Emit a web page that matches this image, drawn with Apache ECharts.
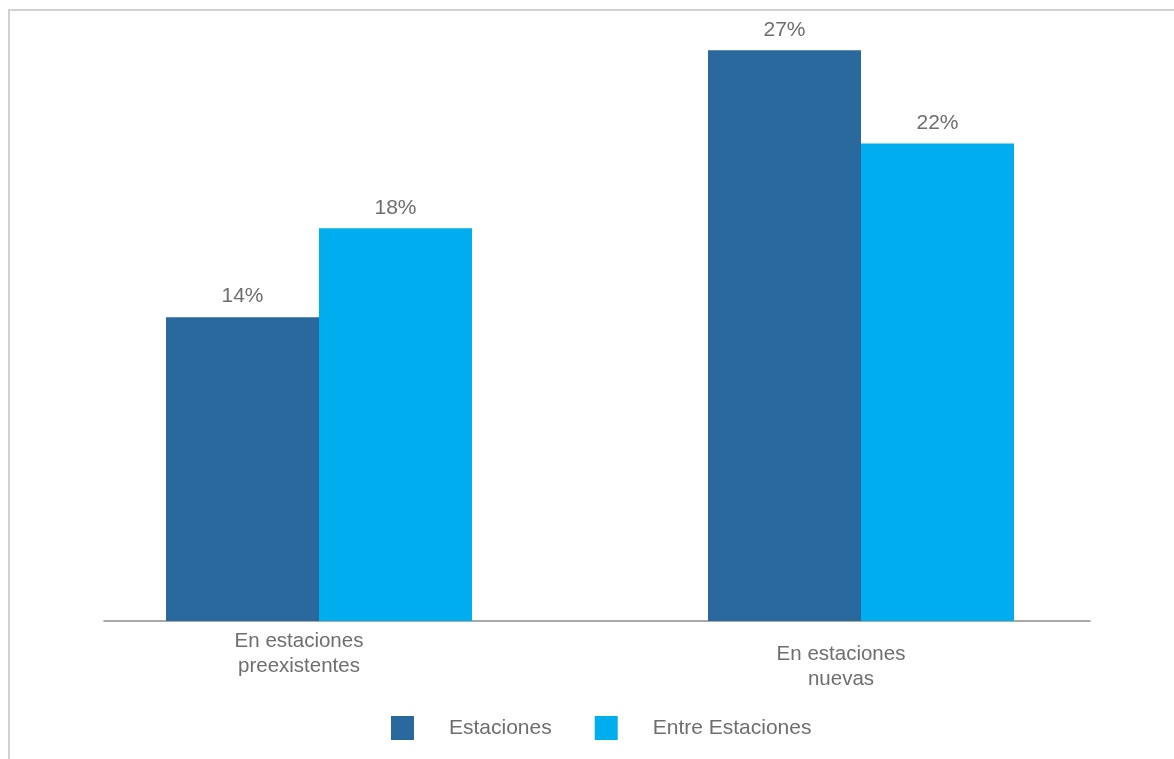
<!DOCTYPE html>
<html>
<head>
<meta charset="utf-8">
<script src="https://cdn.jsdelivr.net/npm/echarts@6/dist/echarts.min.js"></script>
<style>
  html, body { margin: 0; padding: 0; background: #fff; }
  #frame { position: absolute; left: 8px; top: 9px; right: 0; bottom: 0; border-top: 2px solid #d2d2d2; border-left: 2px solid #d2d2d2; }
  #chart { position: absolute; left: 0; top: 0; width: 1174px; height: 759px; }
</style>
</head>
<body>
<div id="frame"></div>
<div id="chart"></div>
<script>
const categories = ['En estaciones\npreexistentes', 'En estaciones\nnuevas'];
const seriesNames = ['Estaciones', 'Entre Estaciones'];
const estaciones = [14, 26.3];
const entreEstaciones = [18.1, 22];
const estacionesLabels = ['14%', '27%'];
const entreLabels = ['18%', '22%'];
const colors = ['#29699e', '#00aeef'];
const textColor = '#6e6e6e';
const font = '"Liberation Sans", Arial, sans-serif';

const chart = echarts.init(document.getElementById('chart'), null, { renderer: 'canvas' });

chart.setOption({
  animation: false,
  backgroundColor: 'transparent',
  textStyle: { fontFamily: font },
  grid: [
    { left: 48, right: 42, top: 13.4, bottom: 138 },
    { left: 104, right: 84, top: 13.4, bottom: 138 }
  ],
  legend: {
    left: 386, top: 711,
    itemWidth: 23, itemHeight: 24,
    itemGap: 43,
    icon: 'rect',
    data: seriesNames,
    textStyle: { color: textColor, fontSize: 21, fontFamily: font, padding: [0, 0, 0, 30] }
  },
  xAxis: [
    {
      type: 'category', gridIndex: 0, data: categories,
      axisLine: { show: false }, axisTick: { show: false },
      axisLabel: {
        color: textColor, fontSize: 20.5, fontFamily: font,
        lineHeight: 25, margin: 8,
        padding: [0, 40, 0, 0],
        formatter: function (v, i) {
          return i === 1 ? '{s|}\n' + v : v;
        },
        rich: { s: { fontSize: 1, lineHeight: 13 } }
      }
    },
    {
      type: 'category', gridIndex: 1, data: categories,
      axisLine: { show: true, lineStyle: { color: '#8c8c8c', width: 1.5 } },
      axisTick: { show: false }, axisLabel: { show: false }
    }
  ],
  yAxis: [
    { type: 'value', gridIndex: 0, min: 0, max: 28, show: false, splitLine: { show: false } },
    { type: 'value', gridIndex: 1, min: 0, max: 28, show: false, splitLine: { show: false } }
  ],
  series: [
    {
      name: seriesNames[0], type: 'bar', xAxisIndex: 0, yAxisIndex: 0,
      data: estaciones, barWidth: 153, barGap: '0%',
      itemStyle: { color: colors[0] },
      label: {
        show: true, position: 'top', distance: 10, color: textColor, fontSize: 21, fontFamily: font,
        formatter: p => estacionesLabels[p.dataIndex]
      }
    },
    {
      name: seriesNames[1], type: 'bar', xAxisIndex: 0, yAxisIndex: 0,
      data: entreEstaciones, barWidth: 153, barGap: '0%',
      itemStyle: { color: colors[1] },
      label: {
        show: true, position: 'top', distance: 10, color: textColor, fontSize: 21, fontFamily: font,
        formatter: p => entreLabels[p.dataIndex]
      }
    }
  ]
});
</script>
</body>
</html>
